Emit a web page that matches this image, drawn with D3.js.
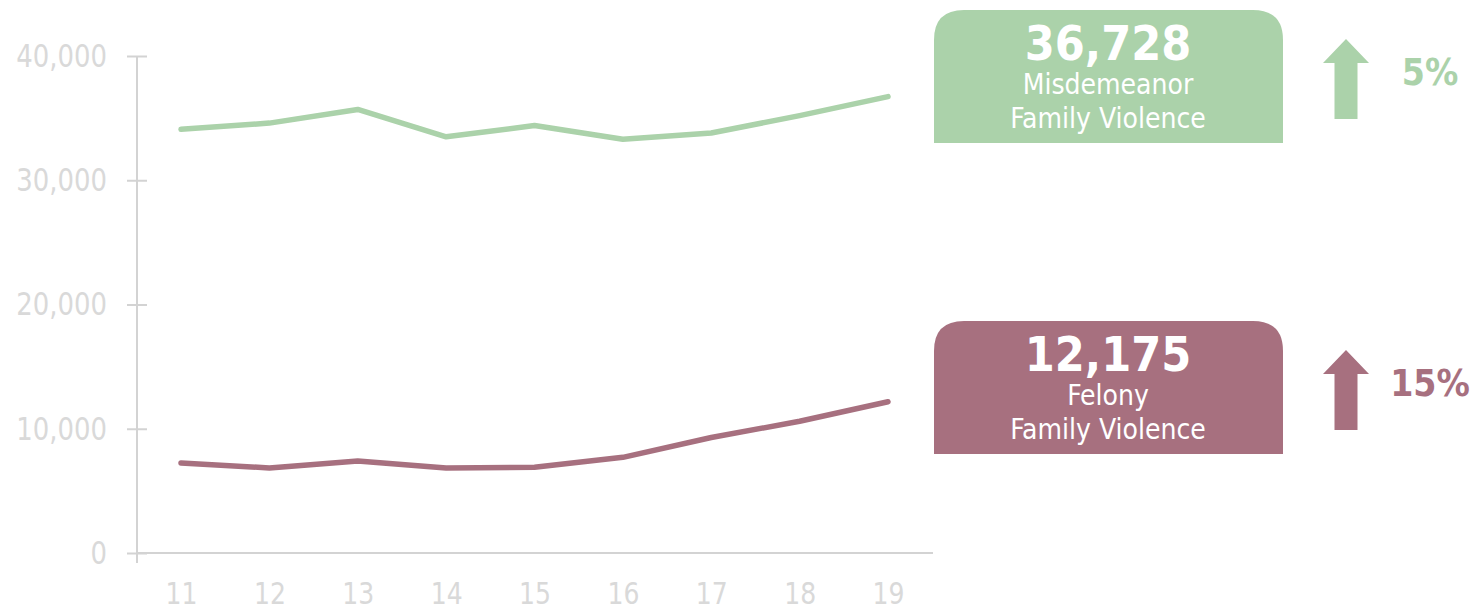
<!DOCTYPE html>
<html>
<head>
<meta charset="utf-8">
<script src="https://cdn.jsdelivr.net/npm/d3@7"></script>
<style>
  html, body { margin: 0; padding: 0; background: #fff; }
  svg { display: block; }
  text { font-family: "DejaVu Sans Condensed", "DejaVu Sans", sans-serif; font-stretch: condensed; }
</style>
</head>
<body>
<svg id="chart" width="1472" height="611"></svg>
<script>
// fiscal years (20xx)
var years = ["11", "12", "13", "14", "15", "16", "17", "18", "19"];
var misdemeanor = [34100, 34600, 35700, 33500, 34400, 33300, 33800, 35200, 36728];
var felony = [7250, 6850, 7400, 6850, 6900, 7700, 9300, 10600, 12175];
var yTicks = [0, 10000, 20000, 30000, 40000];

var seriesNames = ["Misdemeanor", "Felony"];
var seriesLatest = [36728, 12175];
var seriesChange = ["5%", "15%"];

var green = "#abd2aa", maroon = "#a7707f";
var axisColor = "#d3d3d3", labelColor = "#d9d9d9";

var svg = d3.select("#chart");

var x = d3.scalePoint().domain(years).range([181, 888]);
var y = d3.scaleLinear().domain([0, 40000]).range([553, 56]);

// squeeze tick labels a bit, the original uses a narrow face
function narrow(sel) {
  sel.each(function() {
    var len = this.getComputedTextLength();
    d3.select(this).attr("textLength", len * 0.9).attr("lengthAdjust", "spacingAndGlyphs");
  });
}

// y axis
var yAxis = svg.append("g")
  .attr("transform", "translate(137,0)")
  .call(d3.axisLeft(y).tickValues(yTicks).tickFormat(d3.format(",")).tickSize(0).tickPadding(30));
yAxis.select(".domain").remove();
yAxis.selectAll(".tick line").attr("x1", -10).attr("x2", 10).attr("stroke", axisColor).attr("stroke-width", 2);
yAxis.selectAll(".tick text")
  .attr("fill", labelColor).attr("font-size", 32)
  .attr("font-family", "DejaVu Sans Condensed, DejaVu Sans, sans-serif")
  .call(narrow);
yAxis.append("line")
  .attr("x1", 0).attr("x2", 0).attr("y1", y(40000)).attr("y2", y(0) + 10)
  .attr("stroke", axisColor).attr("stroke-width", 2);

// x axis
var xAxis = svg.append("g")
  .attr("transform", "translate(0," + y(0) + ")")
  .call(d3.axisBottom(x).tickSize(0).tickPadding(29));
xAxis.select(".domain").remove();
xAxis.append("line")
  .attr("x1", 137).attr("x2", 933).attr("y1", 0).attr("y2", 0)
  .attr("stroke", axisColor).attr("stroke-width", 2);
xAxis.selectAll(".tick text")
  .attr("fill", labelColor).attr("font-size", 31)
  .attr("font-family", "DejaVu Sans Condensed, DejaVu Sans, sans-serif")
  .call(narrow);

// lines
var line = d3.line()
  .x(function(d, i) { return x(years[i]); })
  .y(function(d) { return y(d); });

[[misdemeanor, green], [felony, maroon]].forEach(function(s) {
  svg.append("path")
    .datum(s[0])
    .attr("d", line)
    .attr("fill", "none")
    .attr("stroke", s[1])
    .attr("stroke-width", 5.5)
    .attr("stroke-linejoin", "round")
    .attr("stroke-linecap", "round");
});

// callout boxes with rounded top corners
function topRounded(x0, y0, w, h, r) {
  return "M" + x0 + "," + (y0 + h) +
    " L" + x0 + "," + (y0 + r) +
    " Q" + x0 + "," + y0 + " " + (x0 + r) + "," + y0 +
    " L" + (x0 + w - r) + "," + y0 +
    " Q" + (x0 + w) + "," + y0 + " " + (x0 + w) + "," + (y0 + r) +
    " L" + (x0 + w) + "," + (y0 + h) + " Z";
}

function arrow(cx, tip, base, bottom) {
  return "M" + cx + "," + tip +
    " L" + (cx + 23) + "," + base +
    " L" + (cx + 11.5) + "," + base +
    " L" + (cx + 11.5) + "," + bottom +
    " L" + (cx - 11.5) + "," + bottom +
    " L" + (cx - 11.5) + "," + base +
    " L" + (cx - 23) + "," + base + " Z";
}

var fmt = d3.format(",");
var colors = [green, maroon];
var offsets = [0, 311];

seriesNames.forEach(function(name, i) {
  var g = svg.append("g").attr("transform", "translate(0," + offsets[i] + ")");
  g.append("path").attr("d", topRounded(934, 10, 349, 133, 30)).attr("fill", colors[i]);
  g.append("text").attr("x", 1108).attr("y", 60).attr("text-anchor", "middle")
    .attr("fill", "#fff").attr("font-size", 48).attr("font-weight", "bold")
    .text(fmt(seriesLatest[i]));
  g.append("text").attr("x", 1108).attr("y", 94).attr("text-anchor", "middle")
    .attr("fill", "#fff").attr("font-size", 28).text(name);
  g.append("text").attr("x", 1108).attr("y", 128).attr("text-anchor", "middle")
    .attr("fill", "#fff").attr("font-size", 28).text("Family Violence");

  g.append("path").attr("d", arrow(1346, 39, 63, 119)).attr("fill", colors[i]);
  g.append("text").attr("x", 1430).attr("y", 85).attr("text-anchor", "middle")
    .attr("fill", colors[i]).attr("font-size", 37).attr("font-weight", "bold")
    .text(seriesChange[i]);
});
</script>
</body>
</html>
